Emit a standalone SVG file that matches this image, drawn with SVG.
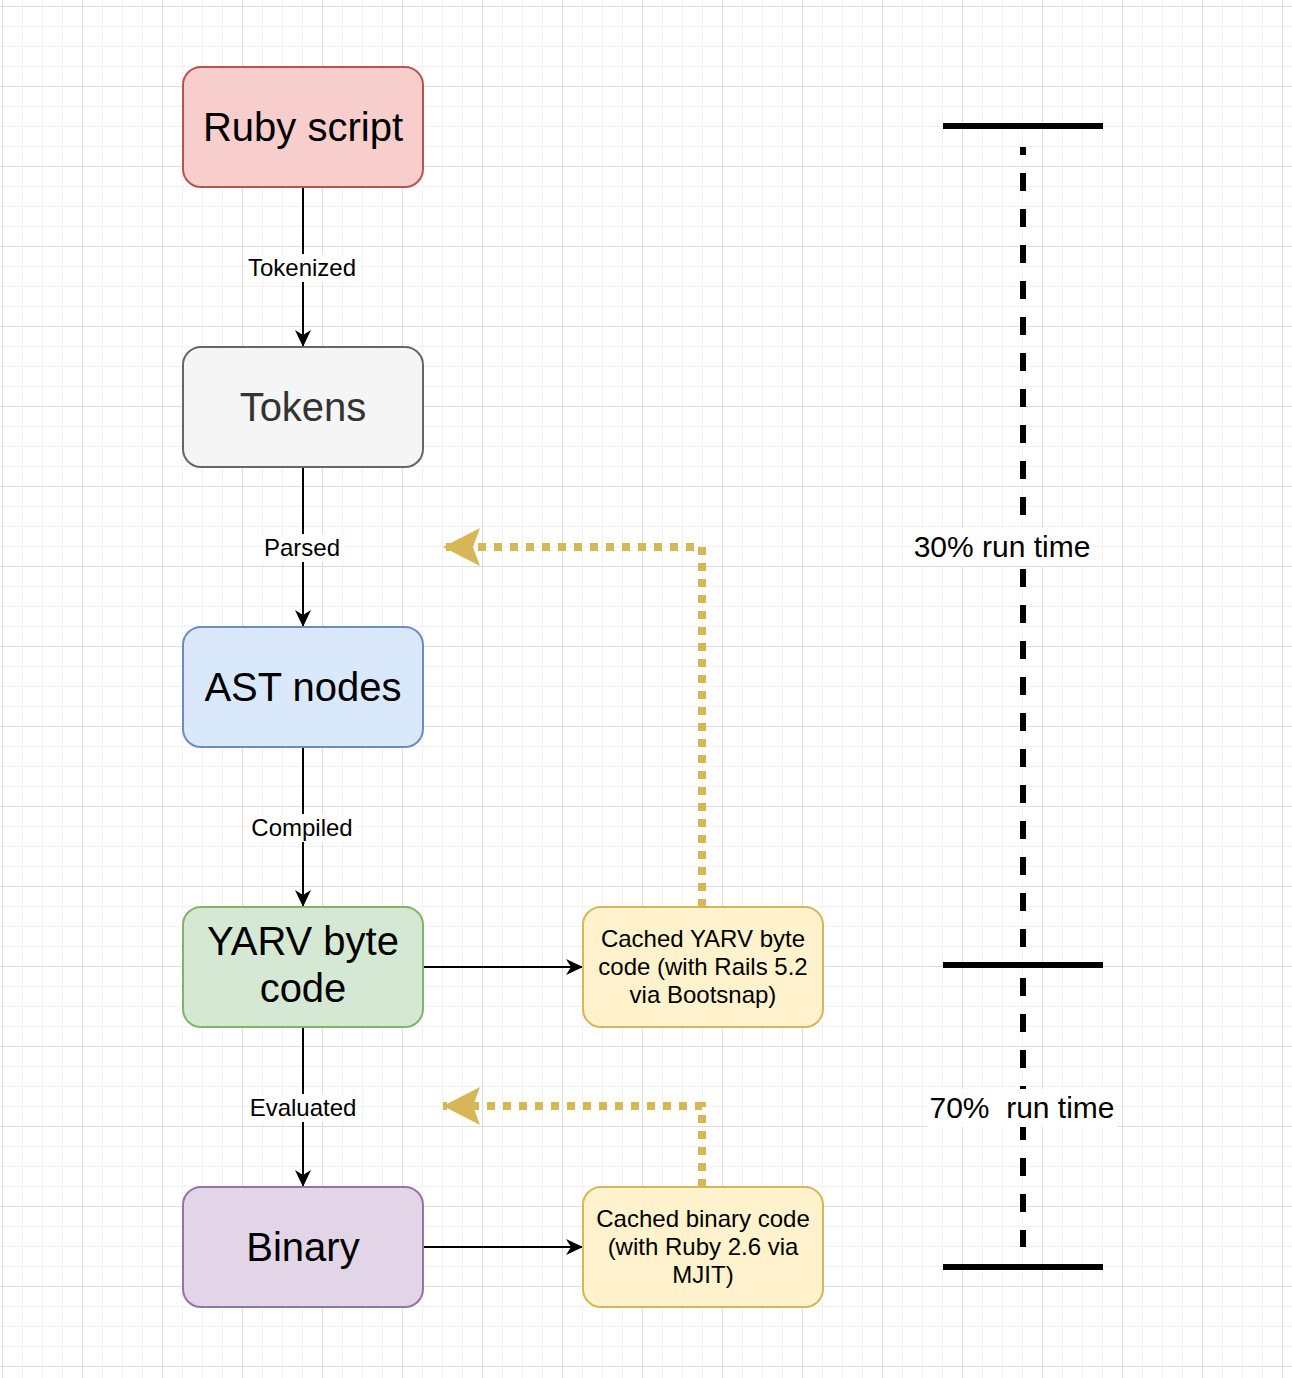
<svg xmlns="http://www.w3.org/2000/svg" width="1292" height="1378" viewBox="0 0 1292 1378">
  <defs>
    <pattern id="grid" x="2" y="6" width="80" height="80" patternUnits="userSpaceOnUse">
      <path d="M20.5 0V80M40.5 0V80M60.5 0V80M0 20.5H80M0 40.5H80M0 60.5H80" stroke="#f1f1f1" stroke-width="1" fill="none"/>
      <path d="M0.5 0V80M0 0.5H80" stroke="#dddddd" stroke-width="1" fill="none"/>
    </pattern>
    <marker id="arrowBlack" markerUnits="userSpaceOnUse" markerWidth="20" markerHeight="20" viewBox="-18 -10 20 20" refX="0" refY="0" orient="auto">
      <path d="M0 0L-17 -8L-12 0L-17 8Z" fill="#000000"/>
    </marker>
    <marker id="arrowGold" markerUnits="userSpaceOnUse" markerWidth="40" markerHeight="42" viewBox="-38 -21 40 42" refX="0" refY="0" orient="auto">
      <path d="M0 0L-37 -19L-30 0L-37 19Z" fill="#d6b656"/>
    </marker>
    <style>
      .node rect { stroke-width: 2; }
      .big { font-family: "Liberation Sans", Arial, Helvetica, sans-serif; font-size: 40px; text-anchor: middle; fill: #000000; }
      .small { font-family: "Liberation Sans", Arial, Helvetica, sans-serif; font-size: 24px; text-anchor: middle; fill: #000000; }
      .lbl { font-family: "Liberation Sans", Arial, Helvetica, sans-serif; font-size: 30px; text-anchor: middle; fill: #000000; }
      .edge { stroke: #000000; stroke-width: 2; fill: none; }
      .cache { stroke: #d6b656; stroke-width: 8; fill: none; stroke-dasharray: 8 8; }
      .bar { stroke: #000000; stroke-width: 6; fill: none; }
      .dash { stroke: #000000; stroke-width: 6; fill: none; stroke-dasharray: 18 18; }
      .bg { fill: #ffffff; }
    </style>
  </defs>

  <rect x="0" y="0" width="1292" height="1378" fill="#ffffff"/>
  <rect x="0" y="0" width="1292" height="1378" fill="url(#grid)"/>

  <g id="timeline">
    <line class="bar" x1="943" y1="126" x2="1103" y2="126"/>
    <line class="bar" x1="943" y1="965" x2="1103" y2="965"/>
    <line class="bar" x1="943" y1="1267" x2="1103" y2="1267"/>
    <line class="dash" x1="1023" y1="147" x2="1023" y2="947" stroke-dashoffset="10"/>
    <line class="dash" x1="1023" y1="966" x2="1023" y2="1247" stroke-dashoffset="24"/>
    <rect class="bg" x="912" y="528" width="180" height="38"/>
    <text class="lbl" x="1002" y="557">30% run time</text>
    <rect class="bg" x="928" y="1089" width="189" height="38"/>
    <text class="lbl" x="1022" y="1118" xml:space="preserve">70%  run time</text>
  </g>

  <g id="connectors">
    <line class="edge" x1="303" y1="187" x2="303" y2="347" marker-end="url(#arrowBlack)"/>
    <line class="edge" x1="303" y1="467" x2="303" y2="627" marker-end="url(#arrowBlack)"/>
    <line class="edge" x1="303" y1="747" x2="303" y2="907" marker-end="url(#arrowBlack)"/>
    <line class="edge" x1="303" y1="1027" x2="303" y2="1187" marker-end="url(#arrowBlack)"/>
    <line class="edge" x1="423" y1="967" x2="583" y2="967" marker-end="url(#arrowBlack)"/>
    <line class="edge" x1="423" y1="1247" x2="583" y2="1247" marker-end="url(#arrowBlack)"/>
    <path class="cache" d="M702 907V547H443" marker-end="url(#arrowGold)"/>
    <path class="cache" d="M702 1187V1106H443" marker-end="url(#arrowGold)"/>

    <rect class="bg" x="246" y="254" width="114" height="28"/>
    <text class="small" x="302" y="276">Tokenized</text>
    <rect class="bg" x="262" y="534" width="82" height="28"/>
    <text class="small" x="302" y="556">Parsed</text>
    <rect class="bg" x="250" y="814" width="106" height="28"/>
    <text class="small" x="302" y="836">Compiled</text>
    <rect class="bg" x="248" y="1094" width="110" height="28"/>
    <text class="small" x="303" y="1116">Evaluated</text>
  </g>

  <g id="ruby-script" class="node">
    <rect x="183" y="67" width="240" height="120" rx="18" ry="18" fill="#f8cecc" stroke="#b85450"/>
    <text class="big" x="303" y="141">Ruby script</text>
  </g>
  <g id="tokens" class="node">
    <rect x="183" y="347" width="240" height="120" rx="18" ry="18" fill="#f5f5f5" stroke="#666666"/>
    <text class="big" x="303" y="421" style="fill:#333333">Tokens</text>
  </g>
  <g id="ast-nodes" class="node">
    <rect x="183" y="627" width="240" height="120" rx="18" ry="18" fill="#dae8fc" stroke="#6c8ebf"/>
    <text class="big" x="303" y="701">AST nodes</text>
  </g>
  <g id="yarv" class="node">
    <rect x="183" y="907" width="240" height="120" rx="18" ry="18" fill="#d5e8d4" stroke="#82b366"/>
    <text class="big" x="303" y="955">YARV byte</text>
    <text class="big" x="303" y="1002">code</text>
  </g>
  <g id="binary" class="node">
    <rect x="183" y="1187" width="240" height="120" rx="18" ry="18" fill="#e1d5e7" stroke="#9673a6"/>
    <text class="big" x="303" y="1261">Binary</text>
  </g>
  <g id="cached-yarv" class="node">
    <rect x="583" y="907" width="240" height="120" rx="18" ry="18" fill="#fff2cc" stroke="#d6b656"/>
    <text class="small" x="703" y="947">Cached YARV byte</text>
    <text class="small" x="703" y="975">code (with Rails 5.2</text>
    <text class="small" x="703" y="1003">via Bootsnap)</text>
  </g>
  <g id="cached-binary" class="node">
    <rect x="583" y="1187" width="240" height="120" rx="18" ry="18" fill="#fff2cc" stroke="#d6b656"/>
    <text class="small" x="703" y="1227">Cached binary code</text>
    <text class="small" x="703" y="1255">(with Ruby 2.6 via</text>
    <text class="small" x="703" y="1283">MJIT)</text>
  </g>
</svg>
